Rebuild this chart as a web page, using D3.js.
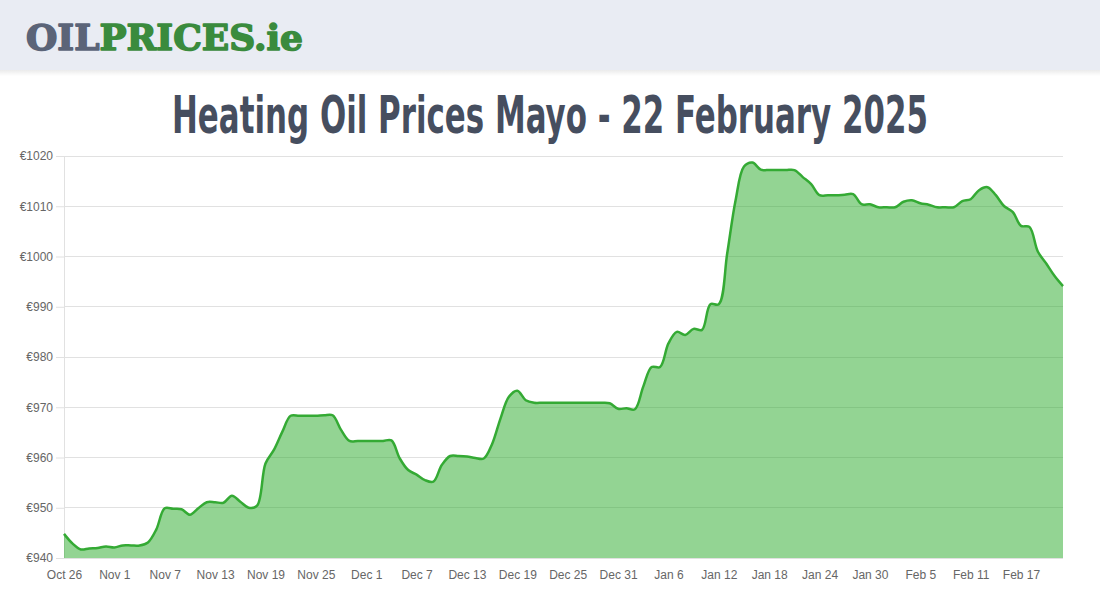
<!DOCTYPE html>
<html>
<head>
<meta charset="utf-8">
<script src="https://cdn.jsdelivr.net/npm/d3@7"></script>
<style>
  html, body { margin: 0; padding: 0; background: #ffffff; }
  svg { display: block; }
</style>
</head>
<body>
<svg id="chart" width="1100" height="600"></svg>
<script>
// ---- data ----
const titleText = "Heating Oil Prices Mayo - 22 February 2025";
const yTicks = [940, 950, 960, 970, 980, 990, 1000, 1010, 1020];
const xTickLabels = ["Oct 26", "Nov 1", "Nov 7", "Nov 13", "Nov 19", "Nov 25", "Dec 1", "Dec 7",
  "Dec 13", "Dec 19", "Dec 25", "Dec 31", "Jan 6", "Jan 12", "Jan 18", "Jan 24", "Jan 30",
  "Feb 5", "Feb 11", "Feb 17"];
const tickEvery = 6; // one tick label every 6 days
// daily prices Oct 26 2024 .. Feb 22 2025
const prices = [
  944.8, 942.9, 941.7, 941.9, 942.0, 942.3, 942.1, 942.5, 942.5, 942.5,
  943.1, 945.7, 949.9, 949.8, 949.7, 948.6, 949.9, 951.1, 951.1, 951.0,
  952.4, 951.2, 950.0, 950.4, 958.8, 961.5, 965.1, 968.3, 968.3, 968.3,
  968.3, 968.4, 968.4, 965.5, 963.3, 963.3, 963.3, 963.3, 963.3, 963.4,
  959.8, 957.5, 956.6, 955.5, 955.2, 958.5, 960.3, 960.3, 960.2, 959.9,
  959.8, 962.7, 967.8, 972.1, 973.3, 971.4, 970.9, 970.9, 970.9, 970.9,
  970.9, 970.9, 970.9, 970.9, 970.9, 970.8, 969.7, 969.8, 969.6, 974.1,
  978.0, 978.0, 982.7, 985.0, 984.4, 985.6, 985.4, 990.5, 990.5, 1000.6,
  1011.2, 1017.9, 1018.7, 1017.3, 1017.2, 1017.2, 1017.2, 1017.2, 1015.8, 1014.4,
  1012.2, 1012.2, 1012.2, 1012.3, 1012.4, 1010.4, 1010.4, 1009.8, 1009.8, 1009.8,
  1010.9, 1011.2, 1010.6, 1010.3, 1009.8, 1009.8, 1009.8, 1011.0, 1011.4, 1013.2,
  1013.8, 1012.2, 1010.0, 1008.9, 1006.1, 1005.9, 1001.0, 998.6, 996.1, 994.1
];

// ---- drawing ----
const svg = d3.select("#chart");
const defs = svg.append("defs");
const sh = defs.append("linearGradient").attr("id", "hdrShadow")
  .attr("x1", 0).attr("y1", 0).attr("x2", 0).attr("y2", 1);
sh.append("stop").attr("offset", "0%").attr("stop-color", "#000").attr("stop-opacity", 0.08);
sh.append("stop").attr("offset", "100%").attr("stop-color", "#000").attr("stop-opacity", 0);

// header band
svg.append("rect").attr("x", 0).attr("y", 70).attr("width", 1100).attr("height", 6).attr("fill", "url(#hdrShadow)");
svg.append("rect").attr("x", 0).attr("y", 0).attr("width", 1100).attr("height", 70).attr("fill", "#e9ecf3");

const logo = svg.append("text")
  .attr("x", 26).attr("y", 50)
  .attr("font-family", "'DejaVu Serif', serif")
  .attr("font-weight", "bold")
  .attr("font-size", 36)
  .attr("stroke-width", 1.6)
  .attr("stroke-linejoin", "round")
  .attr("textLength", 277)
  .attr("lengthAdjust", "spacingAndGlyphs");
logo.append("tspan").attr("fill", "#5b6478").attr("stroke", "#5b6478").text("OIL");
logo.append("tspan").attr("fill", "#3a8b3d").attr("stroke", "#3a8b3d").text("PRICES.ie");

// title
svg.append("text")
  .attr("x", 550).attr("y", 133)
  .attr("text-anchor", "middle")
  .attr("font-family", "'Liberation Sans Narrow', 'DejaVu Sans Condensed', sans-serif")
  .attr("font-weight", "bold")
  .attr("font-size", 52)
  .attr("fill", "#464e5f")
  .attr("textLength", 756)
  .attr("lengthAdjust", "spacingAndGlyphs")
  .text(titleText);

// scales
const x = d3.scaleLinear().domain([0, prices.length - 1]).range([64, 1063]);
const y = d3.scaleLinear().domain([940, 1020]).range([558, 156]);

// y grid + axis
const yAxis = d3.axisLeft(y).tickValues(yTicks).tickSize(8).tickPadding(3).tickFormat(d => "€" + d);
const gy = svg.append("g").attr("transform", "translate(64,0)").call(yAxis);
gy.select(".domain").attr("stroke", "#e1e1e1");
gy.selectAll(".tick line").attr("stroke", "#e1e1e1");
gy.selectAll(".tick text").attr("fill", "#666").attr("font-size", 12)
  .attr("font-family", "'Liberation Sans', Arial, sans-serif");

svg.append("g").selectAll("line").data(yTicks).join("line")
  .attr("x1", 64).attr("x2", 1063)
  .attr("y1", d => y(d)).attr("y2", d => y(d))
  .attr("stroke", "#e1e1e1").attr("stroke-width", 1)
  .attr("shape-rendering", "crispEdges");

// area + line
const curve = d3.curveCatmullRom.alpha(0.5);
const area = d3.area().x((d, i) => x(i)).y0(y(940)).y1(d => y(d)).curve(curve);
const line = d3.line().x((d, i) => x(i)).y(d => y(d)).curve(curve);

svg.append("path").datum(prices).attr("d", area).attr("fill", "rgba(40,170,40,0.5)");
svg.append("path").datum(prices).attr("d", line)
  .attr("fill", "none").attr("stroke", "rgb(52,170,52)").attr("stroke-width", 2.5)
  .attr("stroke-linejoin", "round");

// x axis labels
const xIdx = xTickLabels.map((_, k) => k * tickEvery);
const xAxis = d3.axisBottom(x).tickValues(xIdx).tickSize(0).tickPadding(12)
  .tickFormat((d, k) => xTickLabels[k]);
const gx = svg.append("g").attr("transform", "translate(0,558)").call(xAxis);
gx.select(".domain").remove();
gx.selectAll(".tick text").attr("fill", "#666").attr("font-size", 12)
  .attr("font-family", "'Liberation Sans', Arial, sans-serif");
</script>
</body>
</html>
